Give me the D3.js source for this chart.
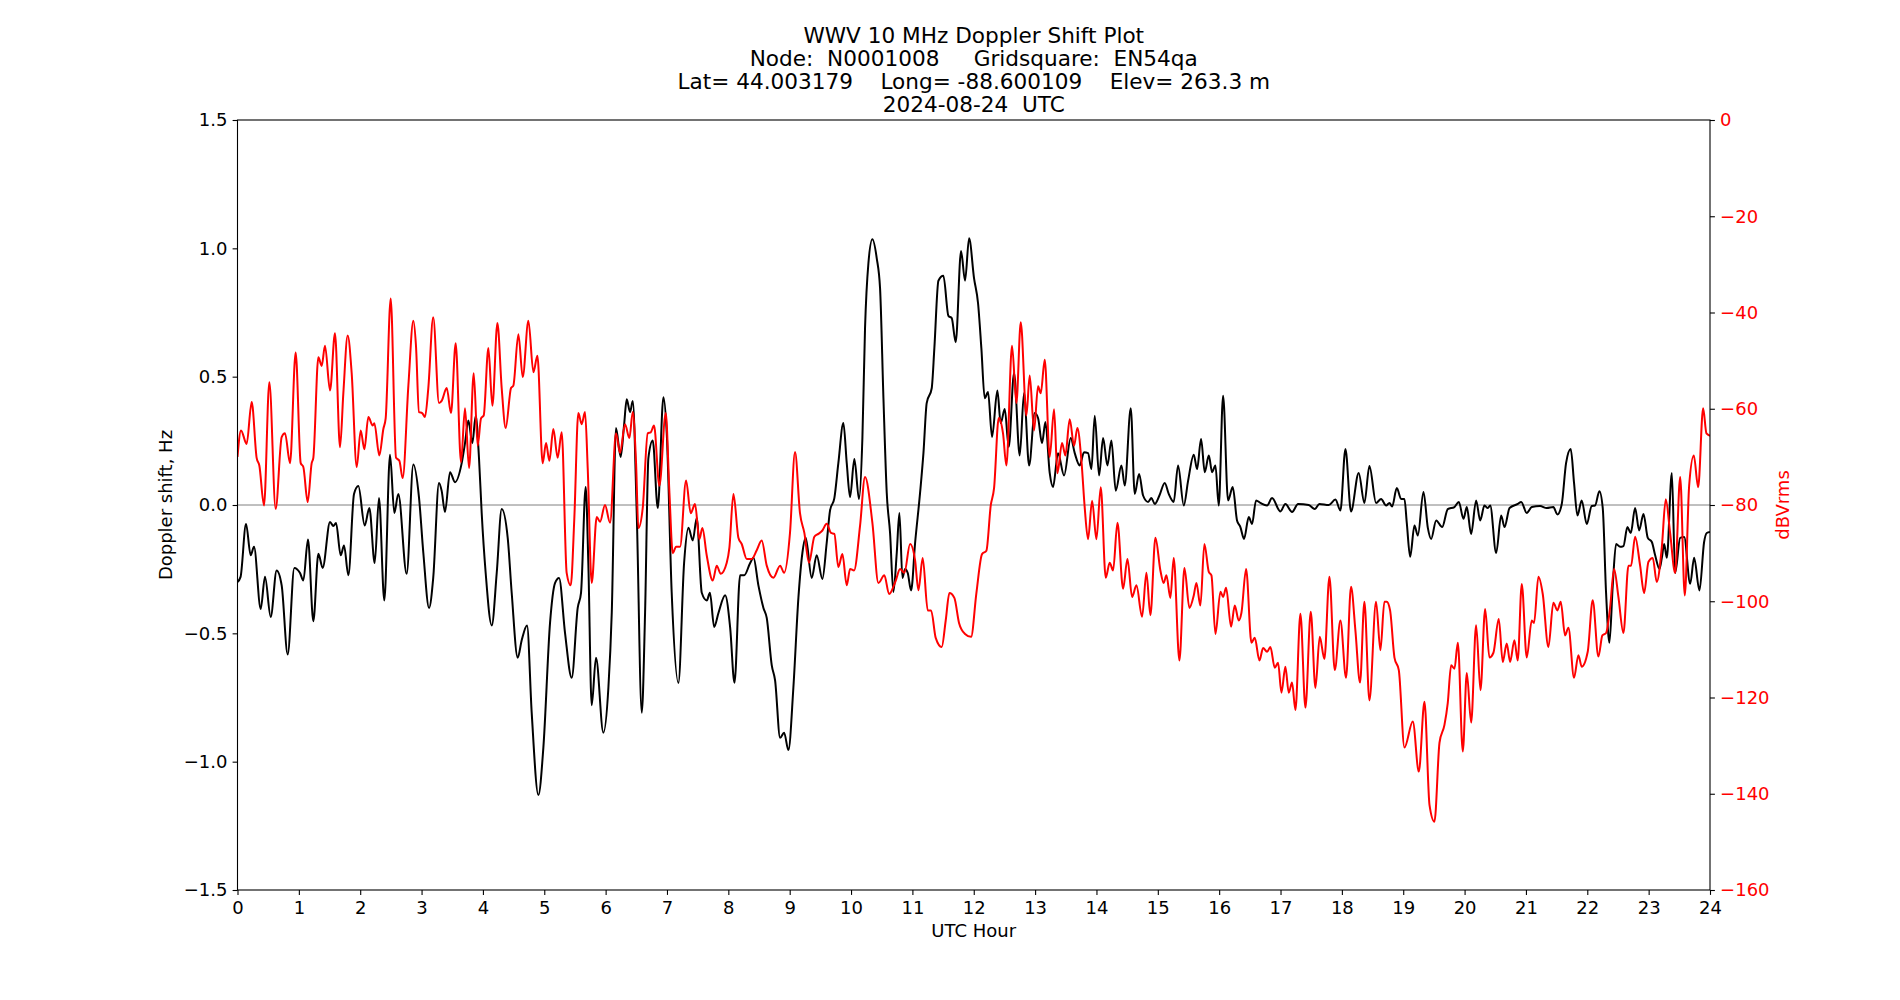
<!DOCTYPE html>
<html><head><meta charset="utf-8">
<script src="https://cdn.jsdelivr.net/npm/d3@7"></script>
<style>
html,body{margin:0;padding:0;background:#fff;}
svg text{font-family:"DejaVu Sans",sans-serif;}
</style></head><body>
<svg id="chart" width="1900" height="1000"></svg>
<script>
const titleLines = [
  "WWV 10 MHz Doppler Shift Plot",
  "Node:  N0001008     Gridsquare:  EN54qa",
  "Lat= 44.003179    Long= -88.600109    Elev= 263.3 m",
  "2024-08-24  UTC"
];
const xLabel = "UTC Hour";
const yLeftLabel = "Doppler shift, Hz";
const yRightLabel = "dBVrms";
const hourTicks = [0,1,2,3,4,5,6,7,8,9,10,11,12,13,14,15,16,17,18,19,20,21,22,23,24];
const hzTicks = [-1.5,-1.0,-0.5,0.0,0.5,1.0,1.5];
const dbTicks = [-160,-140,-120,-100,-80,-60,-40,-20,0];

// Doppler shift (Hz) vs UTC hour
const dopplerPoints = [
[0,-0.30],[0.05,-0.28],[0.139,-0.074],[0.215,-0.196],[0.269,-0.163],[0.378,-0.405],[0.448,-0.28],[0.541,-0.436],[0.638,-0.255],[0.72,-0.313],[0.818,-0.582],[0.926,-0.245],[1.019,-0.265],[1.073,-0.294],[1.149,-0.134],[1.236,-0.453],[1.318,-0.19],[1.388,-0.245],[1.508,-0.066],[1.562,-0.082],[1.606,-0.07],[1.682,-0.196],[1.736,-0.158],[1.807,-0.274],[1.899,0.043],[1.97,0.074],[2.073,-0.08],[2.149,-0.012],[2.236,-0.226],[2.306,0.027],[2.393,-0.372],[2.486,0.196],[2.556,-0.031],[2.621,0.043],[2.757,-0.268],[2.866,0.158],
[2.958,0.03],[3.029,-0.187],[3.122,-0.401],[3.19,-0.284],[3.284,0.086],[3.327,0.056],[3.382,-0.027],[3.464,0.128],[3.545,0.089],[3.654,0.163],[3.708,0.241],[3.763,0.329],[3.828,0.241],[3.882,0.348],[3.936,0.183],[3.98,-0.031],[4.045,-0.265],[4.144,-0.469],[4.225,-0.265],[4.306,-0.016],[4.404,-0.128],[4.469,-0.342],[4.567,-0.595],[4.632,-0.527],[4.719,-0.469],[4.795,-0.809],[4.904,-1.13],[4.985,-0.946],[5.094,-0.459],[5.175,-0.304],[5.241,-0.284],[5.338,-0.498],[5.447,-0.673],[5.545,-0.401],[5.599,-0.342],[5.675,0.07],[5.718,-0.226],[5.773,-0.78],[5.843,-0.595],[5.963,-0.887],
[6.045,-0.712],[6.1,-0.42],[6.169,0.3],[6.245,0.187],[6.3,0.309],[6.344,0.412],[6.398,0.362],[6.442,0.405],[6.507,-0.031],[6.589,-0.809],[6.643,-0.42],[6.697,0.183],[6.768,0.251],[6.85,-0.012],[6.942,0.42],[6.996,0.28],[7.077,-0.342],[7.186,-0.693],[7.279,-0.226],[7.35,-0.089],[7.42,-0.138],[7.485,-0.051],[7.567,-0.342],[7.649,-0.372],[7.7,-0.342],[7.769,-0.475],[7.84,-0.42],[7.948,-0.352],[8.03,-0.479],[8.1,-0.693],[8.192,-0.274],[8.258,-0.274],[8.356,-0.226],[8.41,-0.206],[8.49,-0.313],[8.572,-0.401],[8.626,-0.44],[8.708,-0.625],[8.762,-0.683],[8.844,-0.907],[8.909,-0.887],[8.979,-0.955],
[9.06,-0.712],[9.142,-0.362],[9.207,-0.187],[9.261,-0.128],[9.359,-0.284],[9.44,-0.196],[9.533,-0.288],[9.603,-0.148],[9.658,-0.021],[9.728,0.027],[9.793,0.163],[9.875,0.319],[9.93,0.163],[9.984,0.031],[10.054,0.179],[10.13,0.023],[10.185,0.261],[10.228,0.689],[10.283,0.942],[10.348,1.035],[10.419,0.961],[10.473,0.844],[10.528,0.416],[10.582,0.047],[10.636,-0.109],[10.69,-0.339],[10.745,-0.187],[10.788,-0.031],[10.838,-0.284],[10.881,-0.249],[10.924,-0.265],[10.979,-0.333],[11.044,-0.148],[11.125,0.047],[11.18,0.202],[11.233,0.397],[11.315,0.455],[11.358,0.611],[11.424,0.874],[11.505,0.893],[11.587,0.737],[11.641,0.728],[11.706,0.634],[11.793,0.99],[11.858,0.874],[11.924,1.039],
[12.005,0.883],[12.07,0.786],[12.124,0.611],[12.179,0.416],[12.233,0.44],[12.298,0.265],[12.385,0.446],[12.439,0.319],[12.505,0.374],[12.57,0.226],[12.657,0.514],[12.749,0.193],[12.82,0.436],[12.902,0.154],[12.994,0.358],[13.048,0.339],[13.113,0.241],[13.168,0.323],[13.238,0.125],[13.292,0.07],[13.374,0.202],[13.472,0.115],[13.581,0.261],[13.646,0.202],[13.727,0.154],[13.798,0.206],[13.863,0.202],[13.918,0.14],[13.972,0.348],[14.043,0.115],[14.108,0.261],[14.178,0.154],[14.244,0.251],[14.314,0.056],[14.407,0.154],[14.461,0.076],[14.559,0.377],[14.624,0.043],[14.695,0.121],[14.76,0.037],[14.841,0.012],[14.896,0.027],[14.95,0.004],
[15.026,0.037],[15.113,0.086],[15.178,0.043],[15.259,0.012],[15.33,0.154],[15.423,-0.002],[15.494,0.095],[15.586,0.196],[15.64,0.14],[15.705,0.257],[15.765,0.128],[15.831,0.193],[15.885,0.128],[15.939,0.154],[15.993,-0.002],[16.064,0.426],[16.145,0.018],[16.221,0.07],[16.291,-0.06],[16.346,-0.086],[16.406,-0.132],[16.482,-0.047],[16.536,-0.074],[16.601,0.018],[16.672,0.008],[16.78,-0.002],[16.862,0.027],[16.998,-0.025],[17.079,0.004],[17.188,-0.027],[17.286,0.004],[17.46,0.0],[17.558,-0.016],[17.634,0.004],[17.786,0.0],[17.895,0.021],[17.976,-0.021],[18.058,0.218],
[18.149,-0.025],[18.274,0.125],[18.367,0.008],[18.449,0.152],[18.557,0.008],[18.639,0.023],[18.721,-0.002],[18.775,0.008],[18.819,-0.006],[18.895,0.066],[18.966,0.023],[19.02,0.023],[19.058,-0.07],[19.113,-0.202],[19.183,-0.08],[19.238,-0.119],[19.33,0.051],[19.401,-0.089],[19.455,-0.132],[19.537,-0.06],[19.635,-0.086],[19.726,-0.016],[19.835,-0.008],[19.906,0.012],[19.982,-0.054],[20.036,-0.008],[20.107,-0.113],[20.188,0.018],[20.254,-0.06],[20.324,-0.002],[20.379,-0.012],[20.417,-0.002],[20.515,-0.187],[20.596,-0.041],[20.651,-0.086],[20.733,-0.012],[20.869,0.004],[20.923,0.012],
[21.013,-0.031],[21.095,-0.008],[21.23,-0.004],[21.339,-0.012],[21.447,-0.008],[21.513,-0.037],[21.584,0.004],[21.654,0.163],[21.73,0.218],[21.784,0.086],[21.839,-0.041],[21.909,0.018],[21.991,-0.074],[22.072,-0.004],[22.127,-0.002],[22.197,0.054],[22.252,-0.012],[22.306,-0.342],[22.36,-0.537],[22.415,-0.313],[22.469,-0.152],[22.535,-0.163],[22.589,-0.16],[22.654,-0.086],[22.709,-0.109],[22.779,-0.012],[22.845,-0.099],[22.916,-0.035],[22.986,-0.128],[23.052,-0.144],[23.106,-0.196],[23.177,-0.249],[23.215,-0.206],[23.253,-0.152],[23.296,-0.206],[23.378,0.125],[23.432,-0.265],[23.514,-0.128],[23.579,-0.125],[23.677,-0.307],[23.741,-0.206],[23.828,-0.333],[23.904,-0.144],[23.947,-0.109],[24.0,-0.105]
];

// Signal level (dBVrms) vs UTC hour
const powerPoints = [
[0,-70],[0.057,-64.5],[0.149,-67.3],[0.231,-58.6],[0.312,-70.2],[0.356,-71.8],[0.432,-80.1],[0.519,-54.5],[0.622,-80.8],[0.72,-65.9],[0.774,-65.1],[0.856,-71.3],[0.948,-48.3],[1.03,-71.3],[1.073,-72.1],[1.144,-79.4],[1.209,-71.3],[1.236,-70.2],[1.318,-49.3],[1.372,-51.1],[1.426,-46.9],[1.508,-56.2],[1.589,-44.3],[1.671,-68],[1.725,-56.8],[1.796,-44.8],[1.861,-52.6],[1.943,-72.1],[2.008,-64.5],[2.068,-68.4],[2.133,-61.7],[2.203,-63.5],[2.23,-63],[2.312,-69.7],[2.377,-64.2],[2.415,-62],[2.497,-37.1],[2.584,-70.2],[2.638,-70.8],[2.692,-74.4],[2.785,-55.2],[2.866,-41.7],[2.909,-46.9],
[2.958,-60.7],[3.01,-60.9],[3.056,-61.7],[3.11,-55.7],[3.19,-41],[3.284,-58.8],[3.33,-58.3],[3.41,-55.7],[3.48,-60.9],[3.556,-46.4],[3.643,-71.1],[3.708,-59.9],[3.774,-72.3],[3.85,-52.6],[3.915,-67.7],[3.969,-62],[4.013,-61.4],[4.089,-47.4],[4.154,-59.4],[4.236,-42.2],[4.306,-55.7],[4.371,-64],[4.458,-55.7],[4.496,-55.2],[4.578,-44.5],[4.649,-53.4],[4.741,-41.7],[4.823,-52.4],[4.888,-49],[4.974,-71.3],[5.029,-67.1],[5.083,-70.8],[5.148,-64.2],[5.218,-70.2],[5.284,-64.9],[5.365,-94.1],[5.431,-96.7],[5.49,-82.7],[5.555,-60.9],[5.61,-63.2],[5.664,-60.7],[5.708,-72.3],[5.773,-96.2],[5.855,-82.5],[5.909,-83.5],[5.99,-80],
[6.072,-83.7],[6.169,-65.1],[6.235,-69.2],[6.316,-63.2],[6.387,-66.1],[6.442,-60.7],[6.496,-71.3],[6.534,-84.8],[6.605,-80.6],[6.686,-65.1],[6.735,-64.9],[6.789,-63.5],[6.876,-76],[6.98,-60.9],[7.04,-77.5],[7.094,-90],[7.148,-88.7],[7.213,-88.7],[7.311,-74.9],[7.387,-81.7],[7.457,-79.8],[7.528,-87.1],[7.577,-84.8],[7.648,-90.5],[7.746,-95.7],[7.811,-92.6],[7.876,-94.3],[7.974,-92],[8.017,-88.9],[8.083,-77.7],[8.164,-86.8],[8.218,-88.1],[8.3,-91.2],[8.382,-91.2],[8.463,-89.4],[8.544,-87.4],[8.626,-92.6],[8.735,-95.1],[8.844,-92.6],[8.909,-94.1],
[9.005,-85.8],[9.087,-69],[9.168,-81.7],[9.239,-85.8],[9.315,-92],[9.402,-86.6],[9.467,-86],[9.533,-85.3],[9.603,-83.9],[9.674,-85.8],[9.728,-86],[9.793,-92.9],[9.859,-90.2],[9.93,-96.7],[9.984,-93.3],[10.049,-93.6],[10.147,-84.3],[10.228,-74.2],[10.348,-83.7],[10.446,-96.2],[10.543,-94.6],[10.62,-98.5],[10.729,-95.7],[10.799,-93.3],[10.869,-94.1],[10.962,-88.1],[11.044,-91.5],[11.098,-97.7],[11.168,-91],[11.25,-101.9],[11.305,-101.9],[11.38,-107.6],[11.478,-109.5],[11.543,-104],[11.603,-98.3],[11.684,-99.3],[11.76,-104.5],[11.858,-106.8],[11.956,-107.4],
[12.043,-98.3],[12.135,-90.2],[12.206,-89.5],[12.277,-80.1],[12.331,-76.5],[12.407,-61.9],[12.477,-65.1],[12.532,-71.8],[12.624,-46.9],[12.695,-58.8],[12.766,-42],[12.858,-61.4],[12.912,-53.1],[12.983,-64.5],[13.048,-55.3],[13.092,-56.8],[13.157,-49.8],[13.238,-70],[13.309,-60.1],[13.363,-73.4],[13.439,-67.1],[13.493,-69.7],[13.564,-62.2],[13.635,-67.7],[13.689,-64],[13.755,-70.8],[13.809,-80.6],[13.863,-87.1],[13.929,-79.1],[13.999,-87.1],[14.07,-76.3],[14.151,-95.1],[14.216,-92],[14.271,-93.6],[14.342,-83.7],[14.434,-97.4],[14.505,-91.2],[14.581,-99.1],[14.651,-96.7],[14.744,-103.2],[14.814,-94.1],[14.879,-102.9],[14.961,-86.8],
[15.042,-93.6],[15.096,-96.2],[15.14,-94.6],[15.205,-99.3],[15.259,-91],[15.352,-112.3],[15.434,-93.1],[15.515,-101.4],[15.586,-98.8],[15.629,-96.2],[15.694,-100.9],[15.759,-88.1],[15.831,-93.9],[15.874,-94.6],[15.939,-106.8],[16.021,-98],[16.064,-99.1],[16.113,-97.2],[16.194,-105.3],[16.254,-100.9],[16.319,-104],[16.363,-102.4],[16.439,-93.3],[16.526,-108.6],[16.58,-107.6],[16.656,-112.3],[16.716,-109.7],[16.781,-110.5],[16.835,-109.5],[16.906,-113.8],[16.96,-112.8],[17.015,-119],[17.079,-113.6],[17.134,-119],[17.188,-116.9],[17.243,-122.6],[17.324,-102.6],[17.406,-122.1],[17.493,-102.2],[17.569,-118],[17.639,-107.4],[17.715,-112],[17.797,-94.9],[17.884,-114.3],[17.976,-104],
[18.068,-115.9],[18.149,-97],[18.22,-106],[18.296,-116.9],[18.367,-100.1],[18.449,-120.6],[18.557,-100.1],[18.628,-110.2],[18.693,-100.1],[18.731,-100.1],[18.786,-101.9],[18.857,-111.7],[18.928,-114.3],[19.02,-130.4],[19.156,-125],[19.254,-135.4],[19.346,-120.9],[19.428,-142.3],[19.509,-145.8],[19.591,-129.4],[19.672,-125.7],[19.726,-121.1],[19.781,-113.3],[19.835,-114],[19.89,-108.6],[19.971,-131.2],[20.036,-114.9],[20.107,-125.2],[20.188,-105],[20.259,-118.5],[20.335,-101.6],[20.405,-111.7],[20.47,-110.7],[20.557,-103.7],[20.622,-112.6],[20.687,-108.8],[20.742,-112.6],[20.812,-108.1],[20.866,-112.3],[20.932,-96.4],
[21.013,-111.7],[21.095,-104],[21.133,-104.5],[21.203,-94.9],[21.274,-98.5],[21.366,-109.5],[21.447,-100.3],[21.513,-101.9],[21.567,-100.1],[21.638,-107.1],[21.692,-105.5],[21.784,-115.9],[21.855,-111.2],[21.909,-113.6],[22.007,-110.5],[22.088,-99.8],[22.181,-111.5],[22.246,-107.1],[22.306,-106.6],[22.371,-101.4],[22.437,-93.3],[22.507,-99.1],[22.589,-106.6],[22.671,-92.6],[22.714,-92.6],[22.779,-86.6],[22.861,-92.6],[22.926,-98.3],[22.997,-91.8],[23.067,-91],[23.132,-96],[23.214,-88.9],[23.279,-78.8],[23.35,-85.8],[23.432,-94.1],[23.514,-74.2],[23.589,-98.8],[23.66,-76],[23.736,-69.7],[23.807,-76.3],[23.888,-59.9],[23.942,-65.1],[24.0,-65.6]
];

const W = 1900, H = 1000;
const L = 237.5, R = 1710, T = 120, B = 890;
const svg = d3.select("#chart");
svg.append("rect").attr("width", W).attr("height", H).attr("fill", "#fff");

const x = d3.scaleLinear().domain([0, 24]).range([L, R]);
const yHz = d3.scaleLinear().domain([-1.5, 1.5]).range([B, T]);
const yDb = d3.scaleLinear().domain([-160, 0]).range([B, T]);

const tickFont = "18px";
const labelFont = "18px";

svg.append("defs").append("clipPath").attr("id", "clip")
  .append("rect").attr("x", L).attr("y", T).attr("width", R - L).attr("height", B - T);

// zero line
svg.append("line")
  .attr("x1", x(0)).attr("x2", x(24)).attr("y1", yHz(0)).attr("y2", yHz(0))
  .attr("stroke", "#808080").attr("stroke-width", 1);

const lineHz = d3.line().x(d => x(d[0])).y(d => yHz(d[1])).curve(d3.curveMonotoneX);
const lineDb = d3.line().x(d => x(d[0])).y(d => yDb(d[1])).curve(d3.curveMonotoneX);

const g = svg.append("g").attr("clip-path", "url(#clip)");
g.append("path").datum(dopplerPoints).attr("d", lineHz)
  .attr("fill", "none").attr("stroke", "#000").attr("stroke-width", 2).attr("stroke-linejoin", "round");
g.append("path").datum(powerPoints).attr("d", lineDb)
  .attr("fill", "none").attr("stroke", "#ff0000").attr("stroke-width", 2).attr("stroke-linejoin", "round");

const fmtHz = d3.format(".1f");
const fmtDb = d3.format("d");

const ax = svg.append("g").attr("transform", `translate(0,${B})`)
  .call(d3.axisBottom(x).tickValues(hourTicks).tickFormat(d3.format("d")).tickSize(4.9).tickPadding(6.3));
const ayl = svg.append("g").attr("transform", `translate(${L},0)`)
  .call(d3.axisLeft(yHz).tickValues(hzTicks).tickFormat(fmtHz).tickSize(4.9).tickPadding(5.2));
const ayr = svg.append("g").attr("transform", `translate(${R},0)`)
  .call(d3.axisRight(yDb).tickValues(dbTicks).tickFormat(fmtDb).tickSize(4.9).tickPadding(5.2));

[ax, ayl, ayr].forEach(a => {
  a.select(".domain").remove();
  a.selectAll(".tick line").attr("stroke", "#000").attr("stroke-width", 1.1);
  a.selectAll(".tick text").attr("font-family", "DejaVu Sans").attr("font-size", tickFont).attr("fill", "#000");
});
ayr.selectAll(".tick text").attr("fill", "#ff0000");

// frame
svg.append("rect").attr("x", L).attr("y", T).attr("width", R - L).attr("height", B - T)
  .attr("fill", "none").attr("stroke", "#000").attr("stroke-width", 1.1);

// title
const tg = svg.append("g");
titleLines.forEach((t, i) => {
  tg.append("text").attr("x", (L + R) / 2).attr("y", 42.5 + i * 23.3)
    .attr("text-anchor", "middle").attr("font-size", "21.6px").attr("fill", "#000")
    .style("white-space", "pre").attr("xml:space", "preserve").text(t);
});

// axis labels
svg.append("text").attr("x", (L + R) / 2).attr("y", 937).attr("text-anchor", "middle")
  .attr("font-size", labelFont).attr("fill", "#000").text(xLabel);
svg.append("text").attr("transform", `translate(172,${(T + B) / 2}) rotate(-90)`).attr("text-anchor", "middle")
  .attr("font-size", labelFont).attr("fill", "#000").text(yLeftLabel);
svg.append("text").attr("transform", `translate(1789,${(T + B) / 2}) rotate(-90)`).attr("text-anchor", "middle")
  .attr("font-size", labelFont).attr("fill", "#ff0000").text(yRightLabel);
</script>
</body></html>
